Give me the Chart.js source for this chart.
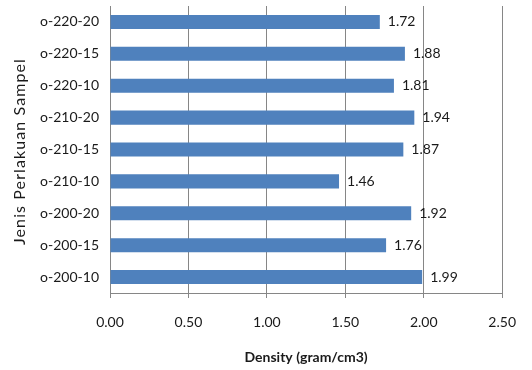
<!DOCTYPE html>
<html>
<head>
<meta charset="utf-8">
<script src="https://cdn.jsdelivr.net/npm/chart.js@4/dist/chart.umd.min.js"></script>
<style>
  html, body { margin: 0; padding: 0; background: #fff; }
  #wrap { width: 532px; height: 370px; }
</style>
</head>
<body>
<div id="wrap"><canvas id="c" width="532" height="370"></canvas></div>
<script>
const categories = ['o-220-20','o-220-15','o-220-10','o-210-20','o-210-15','o-210-10','o-200-20','o-200-15','o-200-10'];
const densityValues = [1.72, 1.88, 1.81, 1.94, 1.87, 1.46, 1.92, 1.76, 1.99];
const xAxisTitle = 'Density (gram/cm3)';
const yAxisTitle = 'Jenis Perlakuan Sampel';

const FONT = 'Lato, "Open Sans", sans-serif';

const valueLabels = {
  id: 'valueLabels',
  afterDatasetsDraw(chart) {
    const ctx = chart.ctx;
    const meta = chart.getDatasetMeta(0);
    ctx.save();
    ctx.font = '14px ' + FONT;
    ctx.fillStyle = '#1a1a1a';
    ctx.textAlign = 'left';
    ctx.textBaseline = 'middle';
    meta.data.forEach((bar, i) => {
      ctx.fillText(densityValues[i].toFixed(2), bar.x + 8, bar.y);
    });
    ctx.restore();
  }
};

const yTitle = {
  id: 'yTitle',
  afterDraw(chart) {
    const ctx = chart.ctx;
    const a = chart.chartArea;
    ctx.save();
    ctx.translate(20, (a.top + a.bottom) / 2 + 2);
    ctx.rotate(-Math.PI / 2);
    ctx.font = '16px ' + FONT;
    try { ctx.letterSpacing = '1.1px'; } catch (e) {}
    ctx.fillStyle = '#1a1a1a';
    ctx.textAlign = 'center';
    ctx.textBaseline = 'middle';
    ctx.fillText(yAxisTitle, 0, 0);
    ctx.restore();
  }
};

new Chart(document.getElementById('c'), {
  type: 'bar',
  data: {
    labels: categories,
    datasets: [{
      data: densityValues,
      backgroundColor: '#4F81BD',
      borderWidth: 0,
      barPercentage: 0.44,
      categoryPercentage: 1.0
    }]
  },
  plugins: [valueLabels, yTitle],
  options: {
    indexAxis: 'y',
    responsive: false,
    animation: false,
    devicePixelRatio: 1,
    layout: { padding: { left: 0, right: 29, top: 6, bottom: 0 } },
    plugins: { legend: { display: false }, tooltip: { enabled: false }, title: { display: false } },
    scales: {
      x: {
        min: 0, max: 2.5,
        afterFit(s) { s.height = 77; },
        ticks: {
          stepSize: 0.5,
          callback: v => Number(v).toFixed(2),
          color: '#1a1a1a',
          font: { family: FONT, size: 14 },
          padding: 16,
          maxRotation: 0
        },
        grid: { color: '#868686', lineWidth: 1, tickLength: 5, drawTicks: true },
        border: { display: true, color: '#868686', width: 1 },
        title: {
          display: true,
          text: xAxisTitle,
          color: '#1a1a1a',
          font: { family: FONT, size: 14, weight: 'bold' },
          padding: { top: 0, bottom: 4 }
        }
      },
      y: {
        afterFit(s) { s.width = 110; s.paddingTop = 0; s.paddingBottom = 0; },
        ticks: {
          color: '#1a1a1a',
          font: { family: FONT, size: 14 },
          padding: 11
        },
        grid: { display: false, drawTicks: false },
        border: { display: false },
        title: { display: false }
      }
    }
  }
});
</script>
</body>
</html>
